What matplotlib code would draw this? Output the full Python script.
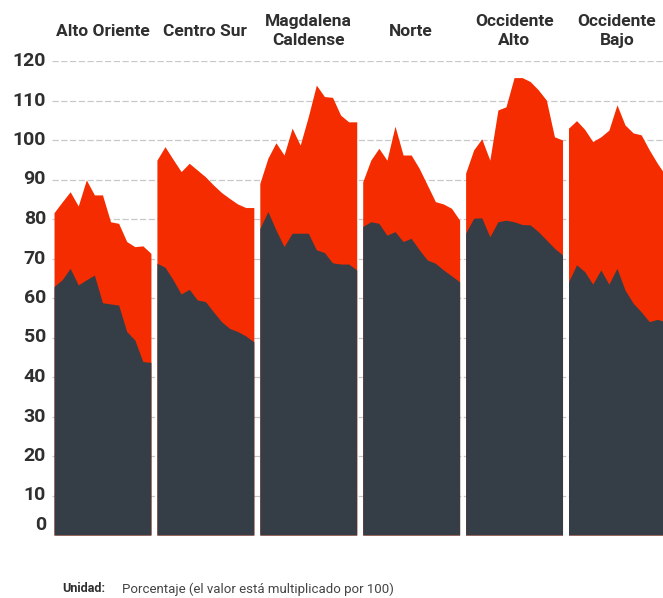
import matplotlib.pyplot as plt
from matplotlib import transforms

plt.rcParams['font.family'] = ['Roboto', 'DejaVu Sans']

regions = ['Alto Oriente', 'Centro Sur', 'Magdalena\nCaldense', 'Norte',
           'Occidente\nAlto', 'Occidente\nBajo']

# upper series (red), one list per region, 13 points each
red = [
    [81.6, 84.3, 86.9, 83.3, 89.9, 86.1, 86.1, 79.3, 78.9, 74.3, 73.0, 73.2, 71.3],
    [94.9, 98.3, 95.1, 92.0, 94.1, 92.4, 90.7, 88.6, 86.7, 85.2, 83.8, 82.9, 82.9],
    [89.0, 95.4, 99.3, 96.2, 103.0, 98.7, 105.9, 113.9, 111.0, 110.8, 106.3, 104.6, 104.6],
    [89.4, 94.9, 97.9, 94.9, 103.5, 96.2, 96.2, 92.8, 88.6, 84.4, 83.8, 82.7, 79.7],
    [91.6, 97.5, 100.3, 94.9, 107.6, 108.4, 115.8, 115.8, 114.8, 112.7, 110.1, 100.8, 100.0],
    [103.0, 104.9, 102.7, 99.6, 100.8, 102.5, 108.9, 103.8, 101.8, 101.3, 97.5, 94.1, 91.1],
]

# lower series (dark)
dark = [
    [62.9, 64.6, 67.5, 63.3, 64.6, 65.8, 58.8, 58.5, 58.2, 51.5, 49.4, 43.9, 43.7],
    [68.8, 67.8, 64.6, 61.0, 62.2, 59.5, 59.1, 56.5, 54.0, 52.3, 51.5, 50.4, 48.9],
    [77.6, 81.9, 77.2, 73.0, 76.4, 76.4, 76.4, 72.2, 71.5, 68.9, 68.6, 68.6, 67.1],
    [78.1, 79.3, 78.9, 75.9, 76.8, 74.3, 75.1, 72.2, 69.6, 68.8, 67.1, 65.6, 64.1],
    [76.4, 80.2, 80.3, 75.5, 79.3, 79.7, 79.3, 78.6, 78.5, 76.8, 74.7, 72.6, 70.9],
    [64.1, 68.4, 66.7, 63.5, 67.1, 63.5, 67.5, 62.0, 58.7, 56.5, 54.0, 54.6, 54.0],
]

yticks = list(range(0, 130, 10))

RED = '#f42c00'
DARK = '#353d46'
TXT = '#2f2f2f'

W, H = 663, 598
fig = plt.figure(figsize=(W / 100, H / 100), dpi=100)
ax = fig.add_axes([52 / W, (H - 535) / H, 1 - 52 / W, 474 / H])

pitch = 12.74
for j in range(len(regions)):
    xs = [j * pitch + k for k in range(len(red[j]))]
    ax.fill_between(xs, 0, red[j], color=RED, lw=0, zorder=2)
    ax.fill_between(xs, 0, dark[j], color=DARK, lw=0, zorder=3)
    cx = j * pitch + 6
    tr = transforms.blended_transform_factory(ax.transData, fig.transFigure)
    ax.text(cx, 1 - 31 / H, regions[j], transform=tr, ha='center', va='center',
            fontsize=12.5, fontweight='bold', color=TXT, linespacing=1.35)

ax.set_xlim(-0.25, 75.4)
ax.set_ylim(0, 120)
for v in yticks[1:]:
    ax.axhline(v, color='#c8c8c8', lw=0.9, ls=(0, (5, 2)), zorder=1)

ax.set_xticks([])
ax.set_yticks([])
for s in ax.spines.values():
    s.set_visible(False)

lbl_tr = transforms.blended_transform_factory(ax.transAxes, ax.transData)
for v in yticks:
    t = lbl_tr
    if v == 0:
        t = lbl_tr + transforms.ScaledTranslation(0, 10 / 100, fig.dpi_scale_trans)
    ax.text(-6 / (W - 52), v, str(v), transform=t, ha='right', va='center',
            fontsize=14, fontweight='bold', color=TXT)

fig.text(62 / W, 1 - 589 / H, 'Unidad:', fontsize=9, fontweight='bold',
         color=TXT, va='center')
fig.text(122 / W, 1 - 589 / H, 'Porcentaje (el valor está multiplicado por 100)',
         fontsize=9.5, color='#444444', va='center')

fig.savefig('out.png', dpi=100)
